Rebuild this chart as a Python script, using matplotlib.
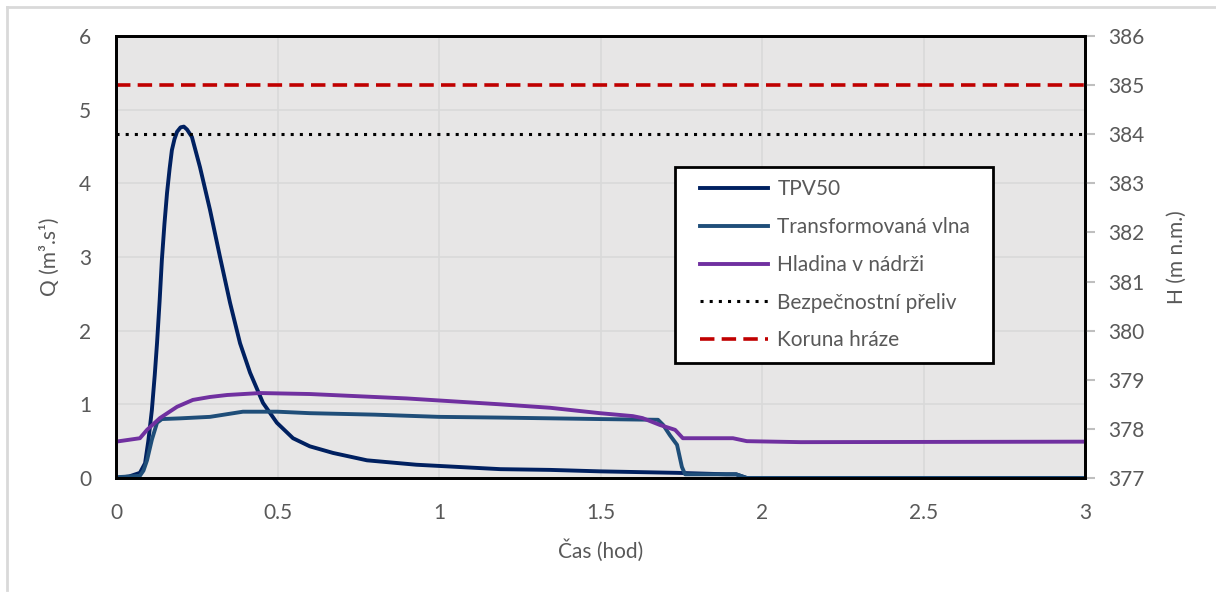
import matplotlib.pyplot as plt
from matplotlib.lines import Line2D
from matplotlib.legend_handler import HandlerLine2D

plt.rcParams['font.family'] = ['Lato', 'DejaVu Sans']

# data
t_tpv = [0, 0.04, 0.074, 0.09, 0.1, 0.111, 0.12, 0.127, 0.135, 0.142, 0.15, 0.158,
         0.166, 0.173, 0.181, 0.189, 0.2, 0.21, 0.22, 0.235, 0.26, 0.291, 0.322,
         0.353, 0.384, 0.415, 0.455, 0.498, 0.548, 0.6, 0.672, 0.777, 0.93, 1.19,
         1.344, 1.5, 1.737, 1.89, 1.92, 1.953, 3.0]
q_tpv = [0, 0.02, 0.07, 0.2, 0.5, 0.92, 1.4, 1.83, 2.4, 2.96, 3.45, 3.87,
         4.2, 4.45, 4.6, 4.70, 4.76, 4.77, 4.73, 4.63, 4.22, 3.64, 3.0,
         2.38, 1.83, 1.43, 1.02, 0.75, 0.54, 0.43, 0.34, 0.24, 0.18, 0.12,
         0.11, 0.09, 0.07, 0.05, 0.05, 0.0, 0.0]

t_tr = [0, 0.074, 0.085, 0.096, 0.111, 0.127, 0.142, 0.2, 0.291, 0.393, 0.5, 0.6,
        0.8, 1.0, 1.19, 1.5, 1.678, 1.694, 1.715, 1.737, 1.752, 1.762, 1.92, 1.953, 3.0]
q_tr = [0.01, 0.03, 0.1, 0.24, 0.52, 0.75, 0.8, 0.81, 0.83, 0.9, 0.9, 0.88,
        0.86, 0.83, 0.82, 0.8, 0.79, 0.72, 0.58, 0.45, 0.15, 0.05, 0.05, 0.0, 0.0]

t_h = [0, 0.074, 0.096, 0.136, 0.189, 0.238, 0.291, 0.344, 0.446, 0.6, 0.9, 1.19,
       1.344, 1.498, 1.6, 1.63, 1.684, 1.731, 1.755, 1.91, 1.953, 2.12, 3.0]
h_h = [377.74, 377.81, 377.98, 378.22, 378.45, 378.59, 378.65, 378.69, 378.73, 378.71,
       378.62, 378.5, 378.43, 378.32, 378.26, 378.22, 378.08, 377.98, 377.81, 377.81,
       377.75, 377.73, 377.74]

h_prepad = 384.0
h_koruna = 385.0

labels = ["TPV50", "Transformovaná vlna", "Hladina v nádrži",
          "Bezpečnostní přeliv", "Koruna hráze"]

gray = '#595959'
fs = 15
lw = 2.8


class IndentHandler(HandlerLine2D):
    # legend line starts a bit further right than the box padding
    def create_artists(self, legend, orig_handle, xdescent, ydescent,
                       width, height, fontsize, trans):
        return super().create_artists(legend, orig_handle, xdescent - 9, ydescent,
                                      width - 12, height, fontsize, trans)


fig = plt.figure(figsize=(12.16, 5.95), dpi=100)
ax = fig.add_axes([116/1216, 1-478/595, (1085-116)/1216, (478-36)/595])
ax2 = ax.twinx()

ax.set_facecolor('#E7E6E6')
ax.grid(True, color='#D9D9D9', lw=1.2)
ax.set_axisbelow(True)

l1, = ax.plot(t_tpv, q_tpv, color='#002060', lw=lw)
l2, = ax.plot(t_tr, q_tr, color='#1F4E79', lw=lw)
l3, = ax2.plot(t_h, h_h, color='#7030A0', lw=lw)
l4 = ax2.axhline(h_prepad, color='black', lw=2.2, ls=(0, (1, 2)))
l5 = ax2.axhline(h_koruna, color='#C00000', lw=2.6, ls=(0, (4, 2)))

ax.set_xlim(0, 3)
ax.set_ylim(0, 6)
ax2.set_ylim(377, 386)
ax.set_xticks([0, 0.5, 1, 1.5, 2, 2.5, 3])
ax.set_xticklabels(['0', '0.5', '1', '1.5', '2', '2.5', '3'])
ax.set_yticks(range(7))
ax2.set_yticks(range(377, 387))

ax.tick_params(axis='both', length=0, labelsize=fs, labelcolor=gray)
ax.tick_params(axis='x', pad=18)
ax.tick_params(axis='y', pad=18)
ax2.tick_params(axis='y', length=7, width=1.5, color='#BFBFBF', labelsize=fs,
                labelcolor=gray, pad=10)

for a in (ax, ax2):
    for s in a.spines.values():
        s.set_color('black')
        s.set_linewidth(2)

ax.set_xlabel("Čas (hod)", fontsize=fs, color=gray, labelpad=12)
ax.set_ylabel("Q (m³.s¹)", fontsize=fs, color=gray, labelpad=14)
ax2.set_ylabel("H (m n.m.)", fontsize=fs, color=gray, labelpad=16)

leg = ax2.legend([l1, l2, l3, l4, l5], labels,
                 bbox_to_anchor=(675/1216, 1-359/595, 318/1216, 192/595),
                 bbox_transform=fig.transFigure, loc='upper left', mode='expand',
                 borderaxespad=0, fontsize=fs, handlelength=4.06, handletextpad=0.25,
                 labelspacing=0.85, borderpad=0.6, fancybox=False,
                 framealpha=1, edgecolor='black',
                 handler_map={Line2D: IndentHandler()})
leg.get_frame().set_linewidth(2)
for t in leg.get_texts():
    t.set_color(gray)

# light gray outer frame (top and left edges)
fig.add_artist(Line2D([7/1216, 7/1216], [1-7/595, 1-590/595],
                      transform=fig.transFigure, color='#D9D9D9', lw=2))
fig.add_artist(Line2D([7/1216, 1], [1-7/595, 1-7/595],
                      transform=fig.transFigure, color='#D9D9D9', lw=2))

fig.savefig('out.png', dpi=100)
